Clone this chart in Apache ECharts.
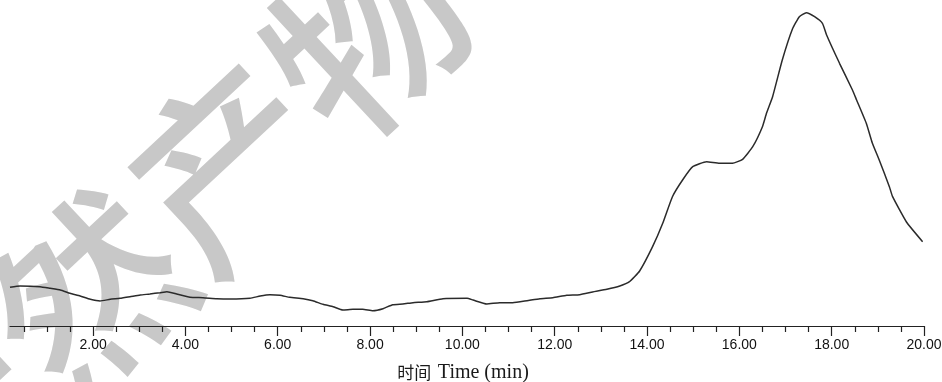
<!DOCTYPE html>
<html>
<head>
<meta charset="utf-8">
<script src="https://cdn.jsdelivr.net/npm/echarts@6/dist/echarts.min.js"></script>
<style>
  html, body { margin: 0; padding: 0; background: #fff; }
  #chart { width: 942px; height: 382px; }
</style>
</head>
<body>
<div id="chart"></div>
<script>
// retention time (min)
var times = [
  0.20, 0.42, 0.85, 1.07, 1.29, 1.50, 1.72, 1.94, 2.15, 2.37, 2.58, 2.80, 3.02, 3.23, 3.45, 3.60,
  3.81, 4.10, 4.38, 4.68, 4.97, 5.40, 5.62, 5.83, 6.05, 6.26, 6.55, 6.76, 6.98, 7.20, 7.41, 7.63,
  7.84, 8.06, 8.28, 8.49, 8.71, 8.93, 9.23, 9.58, 10.10, 10.23, 10.53, 10.81, 11.09, 11.40, 11.68,
  11.96, 12.26, 12.54, 12.82, 13.13, 13.41, 13.62, 13.84, 14.12, 14.34, 14.55, 14.77, 14.99, 15.29,
  15.57, 15.85, 16.07, 16.29, 16.50, 16.59, 16.72, 16.93, 17.15, 17.30, 17.45, 17.63, 17.80, 17.89,
  18.17, 18.45, 18.54, 18.75, 18.88, 19.03, 19.25, 19.32, 19.62, 19.97
];
// detector signal (arbitrary units)
var signal = [
  38.7, 40.0, 39.3, 37.7, 36.0, 32.7, 30.0, 26.7, 25.0, 26.7, 27.7, 29.3, 31.0, 32.0, 33.3, 34.3,
  32.0, 28.7, 28.3, 27.3, 27.0, 27.7, 30.0, 31.3, 30.7, 28.7, 27.3, 25.3, 21.7, 19.3, 16.0, 16.7,
  16.7, 15.3, 17.3, 21.3, 22.0, 23.3, 24.3, 27.3, 27.7, 26.0, 22.0, 23.3, 23.3, 25.3, 27.3,
  28.3, 30.7, 31.3, 34.0, 36.7, 40.0, 44.3, 55.0, 79.3, 102.7, 129.3, 146.0, 159.3, 164.3,
  162.7, 162.7, 166.7, 179.3, 199.3, 213.0, 229.3, 266.0, 297.0, 309.3, 313.3, 309.3, 302.7, 291.0,
  262.7, 236.0, 226.0, 202.7, 183.0, 166.0, 139.3, 129.3, 104.0, 84.3
];
var majorTicks = [2, 4, 6, 8, 10, 12, 14, 16, 18, 20];
var minorTicks = [0.5, 1, 1.5, 2.5, 3, 3.5, 4.5, 5, 5.5, 6.5, 7, 7.5, 8.5, 9, 9.5, 10.5, 11, 11.5,
  12.5, 13, 13.5, 14.5, 15, 15.5, 16.5, 17, 17.5, 18.5, 19, 19.5];
var axisTitleCn = '时间';
var axisTitleEn = 'Time (min)';
var watermark = '天然产物';

var chart = echarts.init(document.getElementById('chart'), null, { renderer: 'canvas' });

var points = times.map(function (t, i) { return [t, signal[i]]; });

var option = {
  animation: false,
  backgroundColor: '#ffffff',
  graphic: [{
    type: 'text',
    z: -10,
    x: 158,
    y: 230,
    rotation: 43 * Math.PI / 180,
    style: {
      text: watermark,
      fill: '#c8c8c8',
      font: '500 190px "Noto Sans CJK SC"',
      align: 'center',
      verticalAlign: 'middle'
    }
  }],
  grid: { left: 10, right: 18, top: 0, bottom: 56, outerBoundsMode: 'none', containLabel: false },
  xAxis: [{
    type: 'value',
    min: 0.2,
    max: 20,
    position: 'bottom',
    name: '{cn|' + axisTitleCn + '}  {en|' + axisTitleEn + '}',
    nameLocation: 'middle',
    nameGap: 37,
    nameTextStyle: {
      color: '#1a1a1a',
      padding: [0, 8, 0, 0],
      rich: {
        cn: { fontFamily: '"Noto Sans CJK SC", serif', fontSize: 17, color: '#1a1a1a', verticalAlign: 'middle' },
        en: { fontFamily: '"Liberation Serif", serif', fontSize: 20, color: '#1a1a1a', verticalAlign: 'middle' }
      }
    },
    axisLine: { show: true, onZero: false, lineStyle: { color: '#222', width: 1.2 } },
    axisTick: { show: true, customValues: majorTicks, length: 10, lineStyle: { color: '#222', width: 1.2 } },
    axisLabel: {
      customValues: majorTicks,
      margin: 12,
      fontFamily: '"Liberation Sans", Arial, sans-serif',
      fontSize: 14,
      color: '#111',
      formatter: function (v) { return v.toFixed(2); }
    },
    splitLine: { show: false }
  }, {
    type: 'value',
    min: 0.2,
    max: 20,
    position: 'bottom',
    axisLine: { show: false, onZero: false },
    axisTick: { show: true, customValues: minorTicks, length: 6, lineStyle: { color: '#222', width: 1.2 } },
    axisLabel: { show: false },
    splitLine: { show: false }
  }],
  yAxis: {
    type: 'value',
    min: 0,
    max: 326,
    show: false,
    splitLine: { show: false }
  },
  series: [{
    type: 'line',
    xAxisIndex: 0,
    data: points,
    showSymbol: false,
    smooth: 0.15,
    lineStyle: { color: '#2b2b2b', width: 1.5 },
    z: 5
  }]
};

chart.setOption(option);
</script>
</body>
</html>
